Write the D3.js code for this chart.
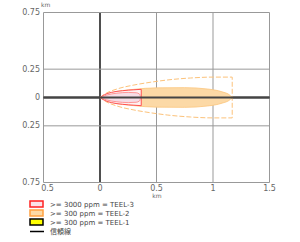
<!DOCTYPE html>
<html>
<head>
	<meta charset="utf-8">
	<script type="text/javascript" src="https://cdn.jsdelivr.net/npm/d3@7/dist/d3.min.js"></script>
	<title>Plume</title>
	<style type="text/css">
		body { margin: 0; background: #fff; }
		text { font-family: "DejaVu Sans", sans-serif; fill: #666; }
	</style>
</head>
<body>
	<script>
		// tick values / labels (negatives shown without sign, as in the original)
		var xTicks = [-0.5, 0, 0.5, 1, 1.5];
		var xTickLabels = ['0.5', '0', '0.5', '1', '1.5'];
		var yTicks = [0.75, 0.25, 0, -0.25, -0.75];
		var yTickLabels = ['0.75', '0.25', '0', '0.25', '0.75'];

		// plume profiles: [distance km, half width km]
		var teel2Envelope = [[0, 0], [0.05, 0.035], [0.15, 0.075], [0.3, 0.11], [0.45, 0.135], [0.6, 0.155], [0.8, 0.172], [1.0, 0.18], [1.17, 0.18]];
		var teel2Plume = [[0, 0], [0.1, 0.04], [0.3, 0.072], [0.5, 0.085], [0.75, 0.087], [0.95, 0.075], [1.08, 0.05], [1.15, 0.02], [1.17, 0]];
		var teel3Envelope = [[0, 0], [0.04, 0.025], [0.1, 0.045], [0.2, 0.06], [0.3, 0.068], [0.365, 0.072]];
		var teel3Plume = [[0, 0], [0.06, 0.022], [0.15, 0.038], [0.25, 0.045], [0.32, 0.042], [0.35, 0.03], [0.36, 0]];

		var legendLabels = ['>= 3000 ppm = TEEL-3', '>= 300 ppm = TEEL-2', '>= 300 ppm = TEEL-1', '信頼線'];
		var legendFill = ['#fbe3ea', '#fcd9a6', '#ffff00', null];
		var legendStroke = ['#ff2020', '#ffa040', '#000', '#000'];

		var svgWidth = 300;
		var svgHeight = 242;

		var svg = d3.select('body')
			.append('svg')
			.attr('width', svgWidth)
			.attr('height', svgHeight);

		var xScale = d3.scaleLinear().domain([-0.5, 1.5]).range([43.5, 269.5]);
		var yScale = d3.scaleLinear().domain([-0.75, 0.75]).range([182.5, 12.5]);

		// grid
		svg.selectAll('line.gx')
			.data(xTicks)
			.enter()
			.append('line')
				.attr('x1', function (d) { return xScale(d); })
				.attr('x2', function (d) { return xScale(d); })
				.attr('y1', yScale(0.75))
				.attr('y2', yScale(-0.75))
				.attr('stroke', function (d) { return d === 0 ? '#222' : '#999'; })
				.attr('stroke-width', function (d) { return d === 0 ? 1.6 : 1; });

		svg.selectAll('line.gy')
			.data(yTicks)
			.enter()
			.append('line')
				.attr('x1', xScale(-0.5))
				.attr('x2', xScale(1.5))
				.attr('y1', function (d) { return yScale(d); })
				.attr('y2', function (d) { return yScale(d); })
				.attr('stroke', function (d) { return d === 0 ? '#444' : '#999'; })
				.attr('stroke-width', function (d) { return d === 0 ? 2 : 1; });

		function plumeArea(pts) {
			return d3.area()
				.x(function (d) { return xScale(d[0]); })
				.y0(function (d) { return yScale(-d[1]); })
				.y1(function (d) { return yScale(d[1]); })
				.curve(d3.curveMonotoneX)(pts);
		}

		// TEEL-2
		svg.append('path')
			.attr('d', plumeArea(teel2Plume))
			.attr('fill', '#fcd9a6')
			.attr('stroke', '#fbc57c')
			.attr('stroke-width', 0.8);
		svg.append('path')
			.attr('d', plumeArea(teel2Envelope))
			.attr('fill', 'none')
			.attr('stroke', '#fcc27a')
			.attr('stroke-width', 1)
			.attr('stroke-dasharray', '5,2');

		// TEEL-3
		svg.append('path')
			.attr('d', plumeArea(teel3Envelope))
			.attr('fill', '#fdf2f2')
			.attr('stroke', '#ff5050')
			.attr('stroke-width', 1);
		svg.append('path')
			.attr('d', plumeArea(teel3Plume))
			.attr('fill', '#f6dde6')
			.attr('stroke', '#ff8080')
			.attr('stroke-width', 0.8);

		// redraw axis line over the plumes
		svg.append('line')
			.attr('x1', xScale(-0.5)).attr('x2', xScale(1.5))
			.attr('y1', yScale(0)).attr('y2', yScale(0))
			.attr('stroke', '#444').attr('stroke-width', 2);

		// tick labels
		svg.selectAll('text.xl')
			.data(xTicks)
			.enter()
			.append('text')
				.attr('x', function (d, i) { return i === 0 ? xScale(d) + 4 : xScale(d); })
				.attr('y', 190.5)
				.attr('text-anchor', 'middle')
				.attr('font-size', 8)
				.text(function (d, i) { return xTickLabels[i]; });

		svg.selectAll('text.yl')
			.data(yTicks)
			.enter()
			.append('text')
				.attr('x', 40)
				.attr('y', function (d) { return yScale(d) + 2.5; })
				.attr('text-anchor', 'end')
				.attr('font-size', 8)
				.text(function (d, i) { return yTickLabels[i]; });

		svg.append('text').attr('x', 41).attr('y', 7).attr('font-size', 6).text('km');
		svg.append('text').attr('x', 157).attr('y', 198).attr('font-size', 6).attr('text-anchor', 'middle').text('km');

		// legend
		var legend = svg.selectAll('g.legend')
			.data(legendLabels)
			.enter()
			.append('g')
				.attr('transform', function (d, i) { return 'translate(30,' + (201 + i * 9) + ')'; });

		legend.each(function (d, i) {
			var g = d3.select(this);
			if (legendFill[i]) {
				g.append('rect')
					.attr('x', 0).attr('y', 0)
					.attr('width', 13).attr('height', 6)
					.attr('fill', legendFill[i])
					.attr('stroke', legendStroke[i])
					.attr('stroke-width', 1.5);
			} else {
				g.append('line')
					.attr('x1', 0).attr('x2', 14)
					.attr('y1', 3.5).attr('y2', 3.5)
					.attr('stroke', legendStroke[i])
					.attr('stroke-width', 1.5);
			}
			g.append('text')
				.attr('x', 20)
				.attr('y', 6)
				.attr('font-size', 7)
				.style('font-family', i === 3 ? '"Noto Sans CJK JP", sans-serif' : null)
				.style('fill', '#444')
				.text(d);
		});
	</script>
</body>
</html>
